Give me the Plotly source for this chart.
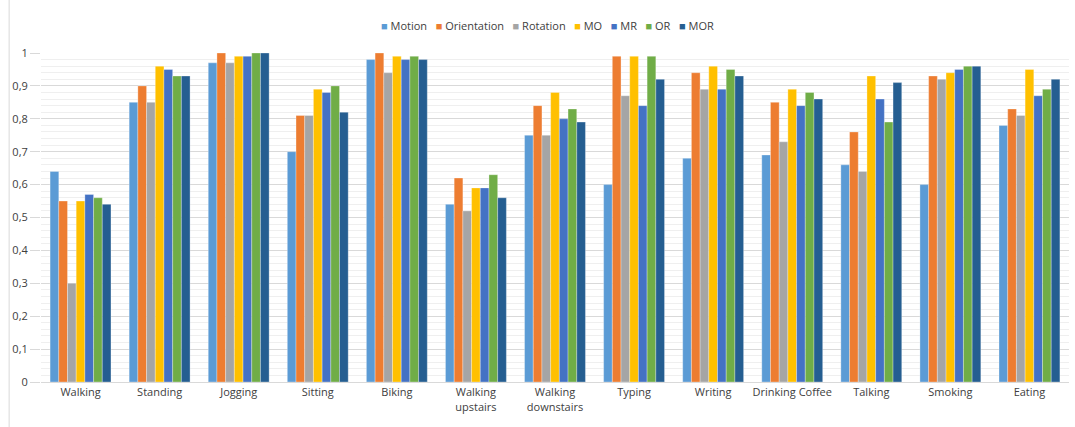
import plotly.graph_objects as go

# Activity categories (x axis)
activities = ["Walking", "Standing", "Jogging", "Sitting", "Biking",
              "Walking<br>upstairs", "Walking<br>downstairs", "Typing", "Writing",
              "Drinking Coffee", "Talking", "Smoking", "Eating"]

# Accuracy per sensor combination
motion      = [0.64, 0.85, 0.97, 0.70, 0.98, 0.54, 0.75, 0.60, 0.68, 0.69, 0.66, 0.60, 0.78]
orientation = [0.55, 0.90, 1.00, 0.81, 1.00, 0.62, 0.84, 0.99, 0.94, 0.85, 0.76, 0.93, 0.83]
rotation    = [0.30, 0.85, 0.97, 0.81, 0.94, 0.52, 0.75, 0.87, 0.89, 0.73, 0.64, 0.92, 0.81]
mo          = [0.55, 0.96, 0.99, 0.89, 0.99, 0.59, 0.88, 0.99, 0.96, 0.89, 0.93, 0.94, 0.95]
mr          = [0.57, 0.95, 0.99, 0.88, 0.98, 0.59, 0.80, 0.84, 0.89, 0.84, 0.86, 0.95, 0.87]
or_         = [0.56, 0.93, 1.00, 0.90, 0.99, 0.63, 0.83, 0.99, 0.95, 0.88, 0.79, 0.96, 0.89]
mor         = [0.54, 0.93, 1.00, 0.82, 0.98, 0.56, 0.79, 0.92, 0.93, 0.86, 0.91, 0.96, 0.92]

series_names = ["Motion", "Orientation", "Rotation", "MO", "MR", "OR", "MOR"]
series_values = [motion, orientation, rotation, mo, mr, or_, mor]
colors = ["#5B9BD5", "#ED7D31", "#A5A5A5", "#FFC000", "#4472C4", "#70AD47", "#255E91"]

# y tick labels with decimal commas
y_ticks = [0, 0.1, 0.2, 0.3, 0.4, 0.5, 0.6, 0.7, 0.8, 0.9, 1.0]
y_tick_labels = ["0", "0,1", "0,2", "0,3", "0,4", "0,5", "0,6", "0,7", "0,8", "0,9", "1"]

fig = go.Figure()
for name, vals, col in zip(series_names, series_values, colors):
    fig.add_trace(go.Bar(
        name=name, x=activities, y=vals,
        marker=dict(color=col, line=dict(color="rgba(255,255,255,0.6)", width=0.5)),
    ))

font_family = "Open Sans, Liberation Sans, sans-serif"
text_color = "#404040"

fig.update_layout(
    width=1075, height=427,
    margin=dict(l=41, r=6, t=53, b=45, autoexpand=False),
    paper_bgcolor="white", plot_bgcolor="white",
    barmode="group", bargap=0.23, bargroupgap=0,
    font=dict(family=font_family, size=11, color=text_color),
    showlegend=False,
)

# compact legend row: coloured square followed by series name
legend_text = "&nbsp;&nbsp;&nbsp;".join(
    f"<span style='color:{c}'>■</span>&nbsp;{n}" for n, c in zip(series_names, colors)
)
fig.add_annotation(
    xref="paper", yref="paper", x=0.493, y=1.085, xanchor="center", yanchor="middle",
    text=legend_text, showarrow=False, font=dict(size=11, color=text_color),
)

fig.update_xaxes(
    showline=True, linecolor="#D9D9D9", linewidth=1,
    ticks="", tickfont=dict(size=11, color=text_color),
)
fig.update_yaxes(
    range=[0, 1.0], tickvals=y_ticks, ticktext=y_tick_labels,
    showgrid=True, gridcolor="#D9D9D9", gridwidth=1,
    zeroline=False, showline=False,
    ticks="outside", ticklen=10, tickcolor="#D9D9D9",
    tickfont=dict(size=11, color=text_color),
    minor=dict(dtick=0.02, showgrid=True, gridcolor="#EFEFEF", gridwidth=1, ticks=""),
)

# outer chart border on the left
fig.add_shape(type="line", xref="paper", yref="paper", x0=-0.031, x1=-0.031, y0=-0.2, y1=1.2,
              line=dict(color="#D9D9D9", width=1))

fig.write_html("out.html")
